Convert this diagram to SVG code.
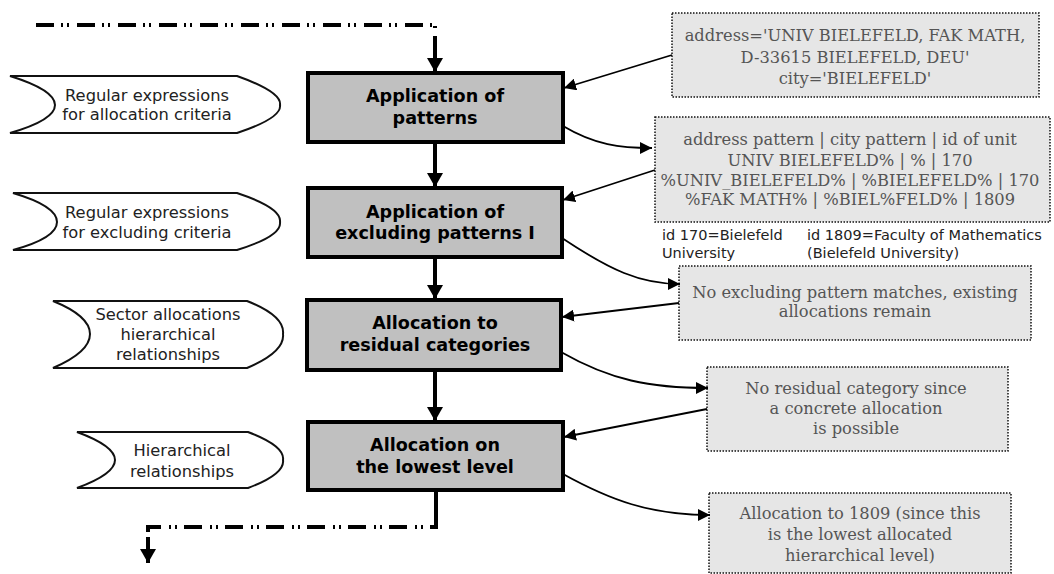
<svg xmlns="http://www.w3.org/2000/svg" width="1054" height="574" viewBox="0 0 1054 574">
  <defs>
    <marker id="headBig" markerUnits="userSpaceOnUse" markerWidth="18" markerHeight="16" refX="14" refY="8" orient="auto">
      <path d="M0,0 L14,8 L0,16 Z" fill="#000"/>
    </marker>
    <marker id="headSmall" markerUnits="userSpaceOnUse" markerWidth="14" markerHeight="12" refX="12" refY="6" orient="auto">
      <path d="M0,0 L12,6 L0,12 Z" fill="#000"/>
    </marker>
    <style>
      .step rect { fill: #c0c0c0; stroke: #000; stroke-width: 4; }
      .step text { font-family: "DejaVu Sans", sans-serif; font-weight: bold; font-size: 17.6px; fill: #000; text-anchor: middle; }
      .input path { fill: #fff; stroke: #111; stroke-width: 2; }
      .input text { font-family: "DejaVu Sans", sans-serif; font-size: 16.3px; fill: #222; text-anchor: middle; }
      .note rect { fill: #e6e6e6; stroke: #111; stroke-width: 1.5; stroke-dasharray: 1.5 1.5; }
      .note text { font-family: "DejaVu Serif", serif; font-size: 16.3px; fill: #555; text-anchor: middle; }
      .legend text { font-family: "DejaVu Sans", sans-serif; font-size: 14.5px; fill: #222; }
      .flow { fill: none; stroke: #000; stroke-width: 4; }
      .dashflow { fill: none; stroke: #000; stroke-width: 4; stroke-dasharray: 18 7 2 4 2 8; }
      .link { fill: none; stroke: #000; stroke-width: 1.8; marker-end: url(#headSmall); }
    </style>
  </defs>

  <!-- process steps -->
  <g id="step-patterns" class="step">
    <rect x="308" y="73" width="255" height="69"/>
    <text x="435" y="102">Application of</text>
    <text x="435" y="124">patterns</text>
  </g>
  <g id="step-excluding" class="step">
    <rect x="308" y="188" width="254" height="69"/>
    <text x="435" y="218">Application of</text>
    <text x="435" y="239">excluding patterns I</text>
  </g>
  <g id="step-residual" class="step">
    <rect x="307" y="300" width="254" height="70"/>
    <text x="435" y="329">Allocation to</text>
    <text x="435" y="351">residual categories</text>
  </g>
  <g id="step-lowest" class="step">
    <rect x="308" y="422" width="255" height="68"/>
    <text x="435" y="451">Allocation on</text>
    <text x="435" y="473">the lowest level</text>
  </g>

  <!-- input sources -->
  <g id="input-allocation" class="input">
    <path d="M10,76 H237 Q282,92 280,105 Q282,118 237,133 H10 Q55,120 55,105 Q55,90 10,76 Z"/>
    <text x="147" y="101">Regular expressions</text>
    <text x="147" y="120">for allocation criteria</text>
  </g>
  <g id="input-excluding" class="input">
    <path d="M13,193 H237 Q282,208 280,222 Q282,236 237,250 H13 Q57,238 57,222 Q57,206 13,193 Z"/>
    <text x="147" y="218">Regular expressions</text>
    <text x="147" y="238">for excluding criteria</text>
  </g>
  <g id="input-sector" class="input">
    <path d="M53,301 H247 Q285,316 283,334 Q285,352 247,368 H53 Q90,352 90,334 Q90,316 53,301 Z"/>
    <text x="168" y="320">Sector allocations</text>
    <text x="168" y="340">hierarchical</text>
    <text x="168" y="360">relationships</text>
  </g>
  <g id="input-hierarchy" class="input">
    <path d="M77,432 H248 Q285,446 283,460 Q285,474 248,488 H77 Q115,474 115,460 Q115,446 77,432 Z"/>
    <text x="182" y="456">Hierarchical</text>
    <text x="182" y="477">relationships</text>
  </g>

  <!-- example notes -->
  <g id="note-record" class="note">
    <rect x="672" y="13" width="367" height="84"/>
    <text x="855" y="41">address='UNIV BIELEFELD, FAK MATH,</text>
    <text x="855" y="63">D-33615 BIELEFELD, DEU'</text>
    <text x="855" y="84">city='BIELEFELD'</text>
  </g>
  <g id="note-patterns" class="note">
    <rect x="655" y="117" width="395" height="105"/>
    <text x="850" y="145">address pattern | city pattern | id of unit</text>
    <text x="850" y="166">UNIV BIELEFELD% | % | 170</text>
    <text x="850" y="186">%UNIV_BIELEFELD% | %BIELEFELD% | 170</text>
    <text x="850" y="205">%FAK MATH% | %BIEL%FELD% | 1809</text>
  </g>
  <g id="legend-ids" class="legend">
    <text x="662" y="240">id 170=Bielefeld</text>
    <text x="662" y="258">University</text>
    <text x="807" y="240">id 1809=Faculty of Mathematics</text>
    <text x="807" y="258">(Bielefeld University)</text>
  </g>
  <g id="note-excluding" class="note">
    <rect x="679" y="266" width="352" height="74"/>
    <text x="855" y="298">No excluding pattern matches, existing</text>
    <text x="855" y="317">allocations remain</text>
  </g>
  <g id="note-residual" class="note">
    <rect x="707" y="367" width="301" height="84"/>
    <text x="856" y="394">No residual category since</text>
    <text x="856" y="414">a concrete allocation</text>
    <text x="856" y="434">is possible</text>
  </g>
  <g id="note-lowest" class="note">
    <rect x="709" y="493" width="302" height="80"/>
    <text x="860" y="519">Allocation to 1809 (since this</text>
    <text x="860" y="540">is the lowest allocated</text>
    <text x="860" y="561">hierarchical level)</text>
  </g>

  <!-- connectors -->
  <g id="connectors">
    <path class="dashflow" d="M36,25 H435 V37"/>
    <path class="flow" d="M435,37 V72" marker-end="url(#headBig)"/>
    <path class="flow" d="M435,142 V187" marker-end="url(#headBig)"/>
    <path class="flow" d="M435,257 V299" marker-end="url(#headBig)"/>
    <path class="flow" d="M435,370 V421" marker-end="url(#headBig)"/>
    <path class="flow" d="M436,490 V515"/>
    <path class="dashflow" d="M436,515 V527 H148 V537"/>
    <path class="flow" d="M148,537 V563" marker-end="url(#headBig)"/>

    <path class="link" d="M672,55 L564,88"/>
    <path class="link" d="M563,126 C595,145 620,148 652,148"/>
    <path class="link" d="M655,170 L563,200"/>
    <path class="link" d="M562,238 C610,270 640,284 680,284"/>
    <path class="link" d="M679,303 L562,317"/>
    <path class="link" d="M561,352 C610,380 650,388 708,388"/>
    <path class="link" d="M707,409 L564,437"/>
    <path class="link" d="M563,474 C610,500 650,515 710,515"/>
  </g>
</svg>
